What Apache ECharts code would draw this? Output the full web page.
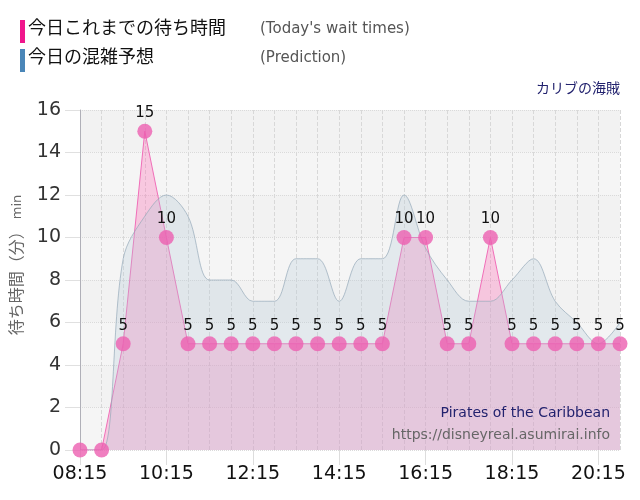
<!DOCTYPE html>
<html>
<head>
<meta charset="utf-8">
<script src="https://cdn.jsdelivr.net/npm/echarts@6/dist/echarts.min.js"></script>
<style>
html, body { margin: 0; padding: 0; background: #fff; }
#main { width: 640px; height: 500px; }
</style>
</head>
<body>
<div id="main"></div>
<script>
var times = ['08:15', '08:45', '09:15', '09:45', '10:15', '10:45', '11:15', '11:45', '12:15', '12:45',
	'13:15', '13:45', '14:15', '14:45', '15:15', '15:45', '16:15', '16:45', '17:15', '17:45',
	'18:15', '18:45', '19:15', '19:45', '20:15', '20:45'];
// 今日これまでの待ち時間
var waitToday = [0, 0, 5, 15, 10, 5, 5, 5, 5, 5, 5, 5, 5, 5, 5, 10, 10, 5, 5, 10, 5, 5, 5, 5, 5, 5];
// 今日の混雑予想
var prediction = [0, 0, 9, 11, 12, 11, 8, 8, 7, 7, 9, 9, 7, 9, 9, 12, 9.5, 8, 7, 7, 8, 9, 7, 6, 5, 6];
var yTicks = [0, 16, 2];

var font = '"DejaVu Sans", "Noto Sans CJK JP", sans-serif';
var chart = echarts.init(document.getElementById('main'));

var option = {
	animation: false,
	textStyle: { fontFamily: font },
	grid: { left: 80, right: 20, top: 110, bottom: 50, outerBoundsMode: 'none' },
	xAxis: {
		type: 'category',
		data: times,
		boundaryGap: false,
		axisLine: { show: false },
		axisTick: { show: true, interval: 3, length: 15, lineStyle: { color: '#ddd' } },
		axisLabel: { interval: 3, color: '#111', fontSize: 19, margin: 15, fontFamily: font },
		splitLine: { show: true, interval: 0, lineStyle: { color: '#d8d8d8', type: 'dashed' } }
	},
	yAxis: {
		type: 'value',
		min: yTicks[0],
		max: yTicks[1],
		interval: yTicks[2],
		name: '{a|待ち時間（分）}{b| min}',
		nameLocation: 'middle',
		nameRotate: 90,
		nameGap: 54,
		nameTextStyle: {
			padding: [0, 0, 0, 30],
			rich: {
				a: { fontSize: 16, color: '#666', fontFamily: font },
				b: { fontSize: 13, color: '#666', fontFamily: font }
			}
		},
		axisLine: { show: true, lineStyle: { color: '#b0b0b8' } },
		axisTick: { show: true, inside: false, length: 15, lineStyle: { color: '#e0e0e0' } },
		axisLabel: { color: '#333', fontSize: 19, margin: 19, fontFamily: font },
		splitLine: { show: true, lineStyle: { color: '#dadada', type: 'dotted' } },
		splitArea: { show: true, areaStyle: { color: ['#f5f5f5', '#f2f2f2'] } }
	},
	graphic: [
		{ type: 'rect', left: 20, top: 20, shape: { width: 5, height: 23 }, style: { fill: '#f0168c' } },
		{ type: 'text', left: 28, top: 20, style: { text: '今日これまでの待ち時間', fontSize: 18, fill: '#111', fontFamily: font } },
		{ type: 'text', left: 260, top: 22, style: { text: "(Today's wait times)", fontSize: 15, fill: '#555', fontFamily: font } },
		{ type: 'rect', left: 20, top: 49, shape: { width: 5, height: 23 }, style: { fill: '#4a86b8' } },
		{ type: 'text', left: 28, top: 49, style: { text: '今日の混雑予想', fontSize: 18, fill: '#111', fontFamily: font } },
		{ type: 'text', left: 260, top: 51, style: { text: '(Prediction)', fontSize: 15, fill: '#555', fontFamily: font } },
		{ type: 'text', right: 20, top: 82, style: { text: 'カリブの海賊', fontSize: 14, fill: '#22226e', fontFamily: font } },
		{ type: 'text', right: 30, top: 406, z: 100, style: { text: 'Pirates of the Caribbean', fontSize: 14, fill: '#22226e', fontFamily: font } },
		{ type: 'text', right: 30, top: 428, z: 100, style: { text: 'https://disneyreal.asumirai.info', fontSize: 14, fill: '#666', fontFamily: font } }
	],
	series: [{
		name: '今日これまでの待ち時間',
		type: 'line',
		data: waitToday,
		symbol: 'none',
		z: 2,
		lineStyle: { color: '#f06eb8', width: 1 },
		areaStyle: { color: 'rgba(255,105,180,0.45)' }
	}, {
		name: '今日の混雑予想',
		type: 'line',
		data: prediction,
		smooth: 0.35,
		symbol: 'none',
		z: 3,
		lineStyle: { color: 'rgba(150,170,185,0.7)', width: 1 },
		areaStyle: { color: 'rgba(180,200,215,0.4)' }
	}, {
		name: 'markers',
		type: 'line',
		data: waitToday,
		z: 4,
		symbol: 'circle',
		symbolSize: 15,
		showAllSymbol: true,
		lineStyle: { width: 0 },
		itemStyle: { color: 'rgba(236,95,176,0.8)' },
		labelLayout: { hideOverlap: false },
		label: {
			show: true,
			position: 'top',
			distance: 3,
			fontSize: 15,
			color: '#111',
			fontFamily: font,
			formatter: function(p) { return p.value > 0 ? p.value : ''; }
		}
	}]
};

chart.setOption(option);
</script>
</body>
</html>
